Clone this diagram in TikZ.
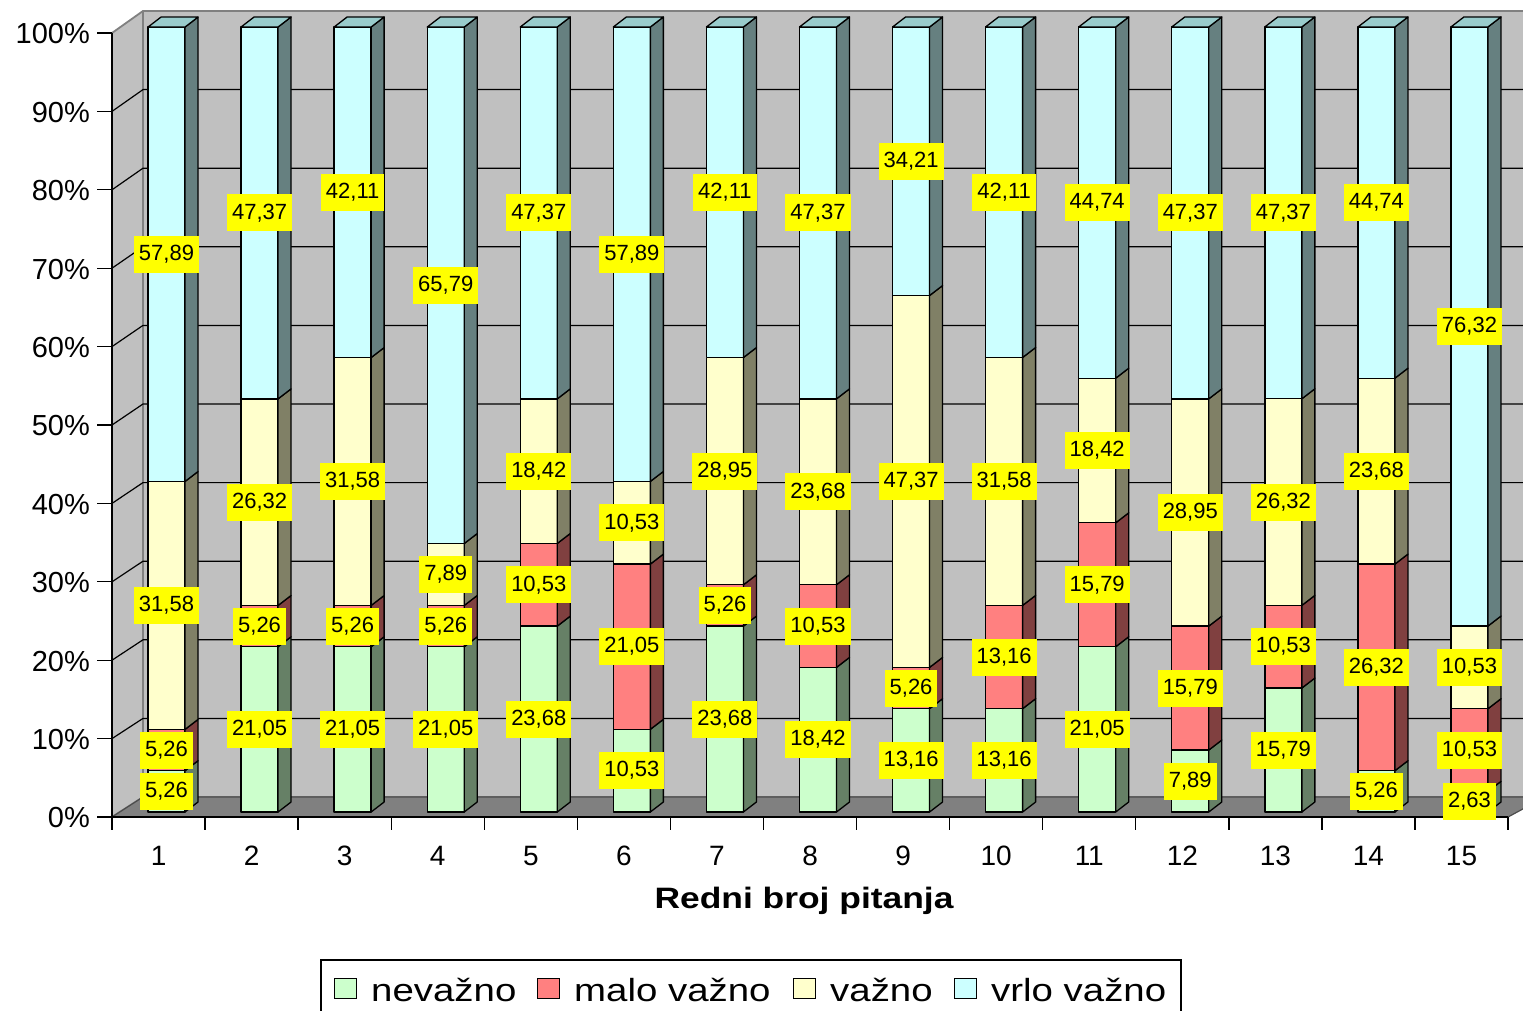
\documentclass[tikz,border=0pt]{standalone}
\usepackage{fontspec}
\setmainfont{Liberation Sans}
\newfontfamily\widesans[FakeStretch=1.2]{Liberation Sans}
\usetikzlibrary{positioning}
\definecolor{wallgray}{HTML}{C0C0C0}
\definecolor{floorgray}{HTML}{808080}
\definecolor{nevFront}{HTML}{CCFFCC}
\definecolor{nevSide}{HTML}{668066}
\definecolor{maloFront}{HTML}{FF8080}
\definecolor{maloSide}{HTML}{804040}
\definecolor{vazFront}{HTML}{FFFFCC}
\definecolor{vazSide}{HTML}{808066}
\definecolor{vrloFront}{HTML}{CCFFFF}
\definecolor{vrloSide}{HTML}{668080}
\definecolor{vrloTop}{HTML}{99CCCC}
\definecolor{lblyellow}{HTML}{FFFF00}
\pgfkeys{/pgf/number format/.cd,fixed,fixed zerofill,precision=2,use comma,assume math mode=true}
\tikzset{
  seg/.style={draw=black, line width=1.3pt, line join=round},
  gridline/.style={black, line width=1.2pt},
  wall/.style={draw=floorgray, line width=1.8pt},
  val/.style={fill=lblyellow, inner xsep=5pt, inner ysep=0pt, minimum height=37pt, font=\fontsize{22}{25}\selectfont},
  ticklbl/.style={anchor=east, inner sep=0pt, font=\fontsize{29}{32}\selectfont},
  catlbl/.style={anchor=base, inner sep=0pt, font=\fontsize{28}{32}\selectfont},
  legsq/.style={draw=black, line width=1pt, minimum width=22pt, minimum height=20pt, inner sep=0pt},
  legtxt/.style={anchor=base west, inner sep=0pt, font=\widesans\fontsize{32}{36}\selectfont},
}
\newcommand{\barseg}[5]{%
  \filldraw[seg, fill=#4] (#1,#2) rectangle (#1+37,#3);
  \filldraw[seg, fill=#5] (#1+37,#2) -- ++(13,-10) -- (#1+50,#3-10) -- (#1+37,#3) -- cycle;}

\begin{document}
\begin{tikzpicture}[x=1pt,y=-1pt]
\useasboundingbox (0,0) rectangle (1523,1011);
\clip (0,0) rectangle (1523,1011);
\fill[white] (0,0) rectangle (1523,1011);
\filldraw[wall, fill=wallgray] (112,33) -- (143,11) -- (1545,11) -- (1545,797) -- (143,797) -- (112,817) -- cycle;
\draw[wall] (143,11) -- (143,797);
\foreach \i in {1,...,9}
  \draw[gridline] (112,817-78.4*\i) -- (143,797-78.6*\i) -- (1545,797-78.6*\i);
\filldraw[fill=floorgray, draw=black!70, line width=1.2pt] (112,817) -- (143,797) -- (1545,797) -- (1508,817) -- cycle;
\draw[black, line width=1.3pt] (112,33) -- (112,817) -- (1508,817);
\foreach \i in {0,...,10}{
  \draw[black, line width=1.3pt] (97,817-78.4*\i) -- (112,817-78.4*\i);
  \node[ticklbl] (y\i) at (90,818-78.4*\i) {\ifnum\i=0 0\else\i0\fi\%};
}
\foreach \k in {0,...,15}
  \draw[black, line width=1.3pt] (112+93.07*\k,817) -- (112+93.07*\k,830);
\foreach \k in {1,...,15}
  \node[catlbl] (c\k) at (112+93.07*\k-46.5,865) {\k};
\node[anchor=base, inner sep=0pt, font=\widesans\bfseries\fontsize{29.5}{32}\selectfont] (title) at (804,908) {Redni broj pitanja};
\foreach \k/\a/\b/\c/\d in {1/5.26/5.26/31.58/57.89, 2/21.05/5.26/26.32/47.37, 3/21.05/5.26/31.58/42.11,
    4/21.05/5.26/7.89/65.79, 5/23.68/10.53/18.42/47.37, 6/10.53/21.05/10.53/57.89,
    7/23.68/5.26/28.95/42.11, 8/18.42/10.53/23.68/47.37, 9/13.16/5.26/47.37/34.21,
    10/13.16/13.16/31.58/42.11, 11/21.05/15.79/18.42/44.74, 12/7.89/15.79/28.95/47.37,
    13/15.79/10.53/26.32/47.37, 14/5.26/26.32/23.68/44.74, 15/2.63/10.53/10.53/76.32}{
  \pgfmathsetmacro\xl{148+(\k-1)*93.07}
  \pgfmathsetmacro\ya{812-7.85*\a}
  \pgfmathsetmacro\yb{\ya-7.85*\b}
  \pgfmathsetmacro\yc{\yb-7.85*\c}
  \pgfmathsetmacro\yd{\yc-7.85*\d}
  \barseg{\xl}{812}{\ya}{nevFront}{nevSide}
  \barseg{\xl}{\ya}{\yb}{maloFront}{maloSide}
  \barseg{\xl}{\yb}{\yc}{vazFront}{vazSide}
  \barseg{\xl}{\yc}{\yd}{vrloFront}{vrloSide}
  \filldraw[seg, fill=vrloTop] (\xl,\yd) -- ++(13,-10) -- ++(37,0) -- ++(-13,10) -- cycle;
}
\foreach \k/\a/\b/\c/\d in {1/5.26/5.26/31.58/57.89, 2/21.05/5.26/26.32/47.37, 3/21.05/5.26/31.58/42.11,
    4/21.05/5.26/7.89/65.79, 5/23.68/10.53/18.42/47.37, 6/10.53/21.05/10.53/57.89,
    7/23.68/5.26/28.95/42.11, 8/18.42/10.53/23.68/47.37, 9/13.16/5.26/47.37/34.21,
    10/13.16/13.16/31.58/42.11, 11/21.05/15.79/18.42/44.74, 12/7.89/15.79/28.95/47.37,
    13/15.79/10.53/26.32/47.37, 14/5.26/26.32/23.68/44.74, 15/2.63/10.53/10.53/76.32}{
  \pgfmathsetmacro\xm{166.5+(\k-1)*93.07}
  \pgfmathsetmacro\ya{812-7.85*\a}
  \pgfmathsetmacro\yb{\ya-7.85*\b}
  \pgfmathsetmacro\yc{\yb-7.85*\c}
  \pgfmathsetmacro\yd{\yc-7.85*\d}
  \node[val] (v\k a) at (\xm,{(812+\ya)/2}) {\pgfmathprintnumber{\a}};
  \node[val] (v\k b) at (\xm,{(\ya+\yb)/2}) {\pgfmathprintnumber{\b}};
  \node[val] (v\k c) at (\xm,{(\yb+\yc)/2}) {\pgfmathprintnumber{\c}};
  \node[val] (v\k d) at (\xm,{(\yc+\yd)/2}) {\pgfmathprintnumber{\d}};
}
\filldraw[draw=black, line width=1.3pt, fill=white] (321,960) rectangle (1181,1025);
\foreach \x/\col/\txt/\n in {334/nevFront/nevažno/a, 537/maloFront/malo važno/b, 793/vazFront/važno/c, 954/vrloFront/vrlo važno/d}{
  \node[legsq, fill=\col] (sq\n) at (\x+11,988) {};
  \node[legtxt] (lt\n) at (\x+37,1001) {\txt};
}
\end{tikzpicture}
\end{document}
